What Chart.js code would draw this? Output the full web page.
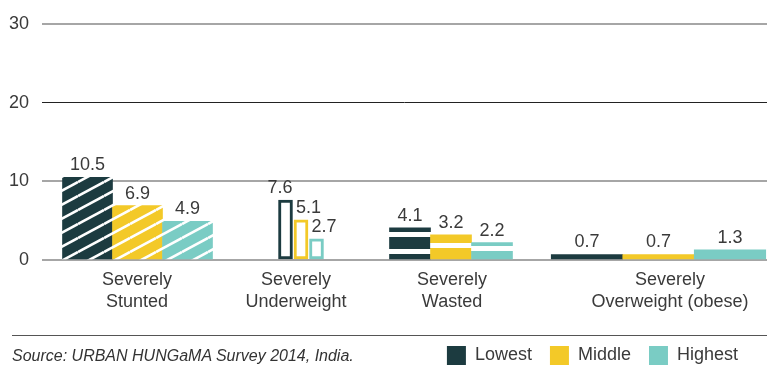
<!DOCTYPE html>
<html>
<head>
<meta charset="utf-8">
<script src="https://cdn.jsdelivr.net/npm/chart.js@4.4.0/dist/chart.umd.min.js"></script>
<style>
  body { margin: 0; background: #fff; }
  #wrap { position: relative; width: 767px; height: 365px; overflow: hidden; }
  #rule { position: absolute; left: 12px; right: 0; top: 335px; border-top: 1px solid #555; }
  #source { position: absolute; left: 12px; top: 347px; line-height: 16px; font: italic 16px "Liberation Sans", Arial, sans-serif; color: #333; white-space: nowrap; }
</style>
</head>
<body>
<div id="wrap">
  <canvas id="myChart" width="767" height="365"></canvas>
  <div id="rule"></div>
  <div id="source"></div>
</div>
<script>
// data
const categories = [["Severely", "Stunted"], ["Severely", "Underweight"], ["Severely", "Wasted"], ["Severely", "Overweight (obese)"]];
const seriesNames = ["Lowest", "Middle", "Highest"];
const lowest = [10.5, 7.6, 4.1, 0.7];
const middle = [6.9, 5.1, 3.2, 0.7];
const highest = [4.9, 2.7, 2.2, 1.3];
const yTicks = [0, 10, 20, 30];
const sourceText = "Source: URBAN HUNGaMA Survey 2014, India.";

// layout / style (x in scale units, 1 unit ~ 1px of plot width)
const groupCenter = [95.5, 259, 409, 616.5];
const barWidth = [50, 14, 41, 71.5];
const barGap = [0, 1.5, 0, 0];
const labelCenter = [95, 254, 410, 628];
const fillKind = ["stripes", "outline", "bands", "solid"];
const labelAlign = [null, ["right", "left", "left"], null, null];
const colors = ["#1c3b40", "#f3c928", "#7accc4"];
const bandOffset = [11, 5, 8];
const textColor = "#3a3a3a";
const legendRightGap = 11;

Chart.defaults.font.family = "'Liberation Sans', Arial, sans-serif";

document.getElementById("source").textContent = sourceText;

function diagonalPattern(color) {
  const c = document.createElement("canvas");
  const w = 26, h = 14;
  c.width = w;
  c.height = h;
  const g = c.getContext("2d");
  g.fillStyle = color;
  g.fillRect(0, 0, w, h);
  g.strokeStyle = "#fff";
  g.lineWidth = 2.6;
  for (let k = -1; k <= 1; k++) {
    g.beginPath();
    g.moveTo(0, h + k * h);
    g.lineTo(w, k * h);
    g.stroke();
  }
  return g.createPattern(c, "repeat");
}

function bandPattern(color, offset) {
  const c = document.createElement("canvas");
  c.width = 4;
  c.height = 17;
  const g = c.getContext("2d");
  g.fillStyle = color;
  g.fillRect(0, 0, 4, 17);
  g.fillStyle = "#fff";
  g.fillRect(0, offset, 4, 5);
  return g.createPattern(c, "repeat");
}

function barFill(kind, i) {
  if (kind === "stripes") return diagonalPattern(colors[i]);
  if (kind === "bands") return bandPattern(colors[i], bandOffset[i]);
  if (kind === "outline") return "#fff";
  return colors[i];
}

const values = [lowest, middle, highest];

const datasets = categories.map((cat, c) => ({
  label: cat.join(" "),
  data: seriesNames.map((s, i) => ({
    x: groupCenter[c] + (i - 1) * (barWidth[c] + barGap[c]),
    y: values[i][c]
  })),
  barThickness: barWidth[c],
  grouped: false,
  backgroundColor: seriesNames.map((s, i) => barFill(fillKind[c], i)),
  borderColor: colors,
  borderWidth: fillKind[c] === "outline" ? 3 : 0,
  borderSkipped: false
}));

const valueLabels = {
  id: "valueLabels",
  afterDatasetsDraw(chart) {
    const ctx = chart.ctx;
    ctx.save();
    ctx.font = "18px 'Liberation Sans', Arial, sans-serif";
    ctx.fillStyle = textColor;
    ctx.textBaseline = "alphabetic";
    chart.data.datasets.forEach((ds, c) => {
      chart.getDatasetMeta(c).data.forEach((bar, i) => {
        const align = labelAlign[c] ? labelAlign[c][i] : "center";
        let x = bar.x;
        if (align === "right") x = bar.x + bar.width / 2;
        if (align === "left") x = bar.x - bar.width / 2 + 2;
        ctx.textAlign = align;
        ctx.fillText(ds.data[i].y.toFixed(1), x, bar.y - 7);
      });
    });
    ctx.restore();
  }
};

// pull the legend in a little from the right edge, the plot still runs to the edge
const legendShift = {
  id: "legendShift",
  beforeDraw(chart) {
    if (chart.legend) chart.legend.right = chart.width - legendRightGap;
  }
};

const ctx = document.getElementById("myChart").getContext("2d");

const chart = new Chart(ctx, {
  type: "bar",
  data: { datasets: datasets },
  plugins: [valueLabels, legendShift],
  options: {
    responsive: false,
    animation: false,
    layout: { padding: { top: 19, right: 0, left: 0, bottom: -10 } },
    plugins: {
      tooltip: { enabled: false },
      legend: {
        position: "bottom",
        align: "end",
        onClick: null,
        labels: {
          boxWidth: 19,
          boxHeight: 19,
          padding: 18,
          color: textColor,
          font: { size: 18 },
          generateLabels: () => seriesNames.map((name, i) => ({
            text: name,
            fillStyle: colors[i],
            strokeStyle: colors[i],
            lineWidth: 0,
            hidden: false,
            fontColor: textColor
          }))
        }
      }
    },
    scales: {
      x: {
        type: "linear",
        min: 0,
        max: 725,
        offset: false,
        grid: { display: false, drawTicks: false, offset: false },
        border: { display: false },
        afterBuildTicks: (scale) => { scale.ticks = labelCenter.map(v => ({ value: v })); },
        afterFit: (scale) => { scale.height = 68; },
        ticks: {
          autoSkip: false,
          maxRotation: 0,
          padding: 9,
          color: textColor,
          font: { size: 18, lineHeight: 1.22 },
          callback: (v, i) => categories[i]
        }
      },
      y: {
        min: 0,
        max: 30,
        afterBuildTicks: (scale) => { scale.ticks = yTicks.map(v => ({ value: v })); },
        afterFit: (scale) => { scale.width = 42; },
        grid: {
          drawTicks: false,
          color: (c) => (c.tick && c.tick.value === 20 ? "#222" : "#a6a6a6"),
          lineWidth: (c) => (c.tick && c.tick.value === 20 ? 1 : 2)
        },
        border: { display: false },
        ticks: { padding: 13, color: textColor, font: { size: 18 } }
      }
    }
  }
});
</script>
</body>
</html>
